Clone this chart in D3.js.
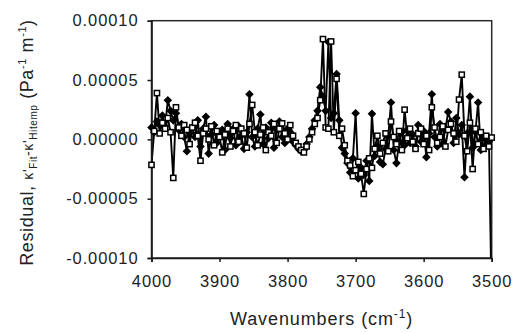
<!DOCTYPE html>
<html>
<head>
<meta charset="utf-8">
<script src="https://cdn.jsdelivr.net/npm/d3@7"></script>
<style>
  html, body { margin: 0; padding: 0; background: #fff; }
  svg { display: block; font-family: "Liberation Sans", Arial, sans-serif; }
</style>
</head>
<body>
<svg id="chart" width="516" height="333"></svg>
<script>
// Spectral sampling grid (cm^-1), high to low wavenumber
const wnStart = 4000, wnEnd = 3500, wnStep = 4;
const wavenumbers = d3.range(wnStart, wnEnd - 1, -wnStep);

// Residuals, in units of 1e-5 Pa^-1 m^-1
const unit = 1e-5;
// filled-diamond series
const residualA = [
  1.0, 0.6, 1.5, 1.2, 2.0, 1.1, 3.3, 2.4, 1.6, 2.2, 0.8, 1.3, 0.2,
  -1.0, 0.5, 1.0, 0.2, 1.6, -0.6, 0.9, 1.9, -1.2, 0.4, 1.2, -0.3, 0.6,
  0.8, -0.9, 1.3, 0.1, 0.9, -0.5, 1.1, 0.3, -0.8, 0.6, 3.8, 0.2, -0.6, 0.9,
  2.1, -0.4, 1.0, 0.1, 1.4, -0.7, 0.8, 1.5, 0.2, -0.3, 0.9,
  0.6, -0.2, -0.5, -0.8, -1.0, -0.9, -0.4, 0.2, 0.9, 1.6,
  2.4, 4.4, 3.6, 2.4, 8.2, 1.8, 2.2, 5.5, 1.6, -0.7,
  -1.2, -2.0, -2.8, -1.6, 2.2, -3.3, -2.4, -3.0, -1.8, -3.5,
  2.15, -1.4, -0.6, -1.9, -2.1, -0.8, 0.3, 3.1, -0.9, -2.0, -0.2, 0.6, -0.5, 0.8, -0.3,
  0.4, -0.6, 1.2, -0.2, 0.7, -1.5, 0.5, 3.8, 0.2, -0.6,
  1.3, -0.4, 0.9, 2.3, 1.5, -0.3, 1.8, 0.4, 1.2, -3.2, 0.5, 3.6, -0.7, 0.6, 3.1,
  -0.9, 0.2, -0.5, -0.2, -14
];
// open-square series
const residualB = [
  -2.15, 0.7, 3.9, 0.5, 1.4, 0.9, 1.8, 0.6, -3.25, 2.7, 1.0, 0.3, 1.2,
  0.8, -0.4, 1.0, 1.4, 0.3, -1.8, 0.5, 0.9, 0.0, 1.1, -0.5, 0.7, 0.2,
  -1.1, 0.4, 0.9, -0.6, 0.7, 1.2, -0.2, 0.9, 0.5, -0.7, 1.3, 2.9, 0.6, -0.5,
  0.4, 1.0, -0.9, 0.6, 0.3, 1.3, -0.3, 0.9, 1.35, 0.5, 0.0,
  1.2, 0.3, -0.3, -0.6, -0.9, -1.1, -0.6, 0.0, 0.6, 1.3,
  1.8, 3.3, 8.45, 1.0, 0.9, 8.25, 0.6, 5.1, 0.3, 0.9,
  -0.5, -1.8, -2.2, -3.1, -2.6, -1.9, -2.9, -4.6, -2.5, -1.6,
  -2.4, -0.8, 0.3, -1.2, -0.3, 0.5, -1.0, 1.5, 0.2, -0.4, 0.7, -0.9, 2.5, 0.1, 0.9,
  -0.2, -0.8, 0.5, 0.9, -0.4, 0.3, -0.9, 2.7, 1.0, -0.3,
  0.2, 1.1, -0.6, 0.8, 1.3, 0.5, -0.2, 3.35, 5.45, 0.3, -1.0, 1.4, -2.5, 0.9, -0.4,
  0.6, -0.8, 0.3, -0.6, 0.15
];

const xTicks = [4000, 3900, 3800, 3700, 3600, 3500];
const xTickLabels = ["4000", "3900", "3800", "3700", "3600", "3500"];
const yTicks = [-0.0001, -0.00005, 0, 0.00005, 0.0001];
const yTickLabels = ["-0.00010", "-0.00005", "0.00000", "0.00005", "0.00010"];

const svg = d3.select("#chart");
const plot = { left: 151.5, right: 491.7, top: 20.7, bottom: 258 };

const x = d3.scaleLinear().domain([wnStart, wnEnd]).range([plot.left, plot.right]);
const y = d3.scaleLinear().domain([-0.0001, 0.0001]).range([plot.bottom, plot.top]);

svg.append("defs").append("clipPath").attr("id", "plotClip")
  .append("rect")
  .attr("x", plot.left).attr("y", plot.top)
  .attr("width", plot.right - plot.left).attr("height", plot.bottom - plot.top);

const ink = "#1a1a1a";

// plot-area frame
svg.append("rect")
  .attr("x", plot.left).attr("y", plot.top)
  .attr("width", plot.right - plot.left).attr("height", plot.bottom - plot.top)
  .attr("fill", "none").attr("stroke", "#2a2a2a").attr("stroke-width", 1.5);

// connecting lines are clipped to the plot area
const lineG = svg.append("g").attr("clip-path", "url(#plotClip)");
const seriesA = wavenumbers.map((w, i) => ({ w, v: residualA[i] * unit }));
const seriesB = wavenumbers.map((w, i) => ({ w, v: residualB[i] * unit }));
const line = d3.line().x(d => x(d.w)).y(d => y(d.v));
const inRange = d => d.v >= y.domain()[0] && d.v <= y.domain()[1];

lineG.append("path").datum(seriesA).attr("d", line)
  .attr("fill", "none").attr("stroke", "#000").attr("stroke-width", 1.9).attr("stroke-linejoin", "round");
lineG.append("path").datum(seriesB).attr("d", line)
  .attr("fill", "none").attr("stroke", "#000").attr("stroke-width", 1.9).attr("stroke-linejoin", "round");

// markers for on-scale points
const markG = svg.append("g");
const diamond = "M0,-4.3L4.3,0L0,4.3L-4.3,0Z";
markG.selectAll(".dia").data(seriesA.filter(inRange)).join("path")
  .attr("class", "dia")
  .attr("transform", d => `translate(${x(d.w)},${y(d.v)})`)
  .attr("d", diamond).attr("fill", "#000");

markG.selectAll(".sq").data(seriesB.filter(inRange)).join("rect")
  .attr("class", "sq")
  .attr("x", d => x(d.w) - 2.6).attr("y", d => y(d.v) - 2.6)
  .attr("width", 5.2).attr("height", 5.2)
  .attr("fill", "#fff").attr("stroke", "#000").attr("stroke-width", 1.5);

// axes
const yAxis = d3.axisLeft(y).tickValues(yTicks)
  .tickFormat((d, i) => yTickLabels[i]).tickSize(4).tickPadding(9);
const xAxis = d3.axisBottom(x).tickValues(xTicks)
  .tickFormat((d, i) => xTickLabels[i]).tickSize(4).tickPadding(13);

const gy = svg.append("g").attr("transform", `translate(${plot.left},0)`).call(yAxis);
const gx = svg.append("g").attr("transform", `translate(0,${plot.bottom})`).call(xAxis);

[gx, gy].forEach(g => {
  g.select(".domain").attr("stroke", ink).attr("stroke-width", 1.6);
  g.selectAll(".tick line").attr("stroke", ink).attr("stroke-width", 1.5);
  g.selectAll(".tick text").attr("fill", "#222")
    .style("font-size", "16.5px").style("letter-spacing", "0.9px")
    .style("font-family", "'Liberation Sans', Arial, sans-serif");
});
// keep markers above the axis lines
markG.raise();

// axis titles
const xTitle = svg.append("text")
  .attr("x", (plot.left + plot.right) / 2).attr("y", 324.5)
  .attr("text-anchor", "middle").attr("fill", "#222")
  .style("font-size", "18px").style("letter-spacing", "0.9px");
xTitle.append("tspan").text("Wavenumbers (cm");
xTitle.append("tspan").attr("dy", -7).style("font-size", "12px").text("-1");
xTitle.append("tspan").attr("dy", 7).text(")");

const yTitle = svg.append("text")
  .attr("transform", `translate(33,${(20 + 265) / 2}) rotate(-90)`)
  .attr("text-anchor", "middle").attr("fill", "#222")
  .style("font-size", "18px").style("letter-spacing", "0.6px");
yTitle.append("tspan").text("Residual, ");
yTitle.append("tspan").style("font-size", "14px").text("κ'");
yTitle.append("tspan").attr("dy", 4).style("font-size", "10px").text("Fit");
yTitle.append("tspan").attr("dy", -4).style("font-size", "14px").text("-κ'");
yTitle.append("tspan").attr("dy", 4).style("font-size", "10px").text("Hitemp");
yTitle.append("tspan").attr("dy", -4).text(" (Pa");
yTitle.append("tspan").attr("dy", -7).style("font-size", "11px").text("-1");
yTitle.append("tspan").attr("dy", 7).text(" m");
yTitle.append("tspan").attr("dy", -7).style("font-size", "11px").text("-1");
yTitle.append("tspan").attr("dy", 7).text(")");
</script>
</body>
</html>
